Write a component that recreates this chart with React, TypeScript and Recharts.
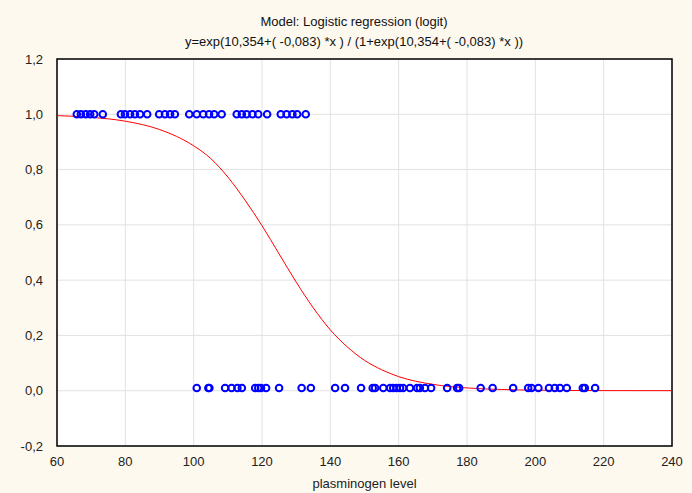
import React from 'react';
import {
  ComposedChart,
  Scatter,
  Line,
  XAxis,
  YAxis,
  CartesianGrid,
  ReferenceArea,
} from 'recharts';

// observed plasminogen levels, outcome = 1
const groupOne = [
  65.8, 67.0, 68.4, 69.7, 70.9, 73.4, 78.7, 79.9, 81.4, 82.8, 84.3, 86.4,
  89.9, 91.6, 93.1, 94.5, 98.7, 100.9, 102.8, 104.5, 106.0, 108.2, 112.6,
  114.1, 115.5, 117.2, 118.9, 121.5, 125.5, 127.2, 128.9, 130.3, 132.8,
];

// observed plasminogen levels, outcome = 0
const groupZero = [
  100.9, 104.3, 104.6, 109.2, 111.1, 112.8, 114.1, 118.0, 118.9, 119.7,
  121.2, 125.0, 131.6, 134.3, 141.4, 144.3, 149.0, 152.4, 153.1, 155.5,
  157.5, 158.4, 159.4, 160.4, 161.3, 163.3, 165.4, 166.2, 167.7, 169.5,
  174.2, 177.1, 177.7, 184.0, 187.5, 193.5, 197.9, 198.9, 200.9, 204.0,
  205.7, 207.2, 209.2, 213.9, 214.5, 217.5,
];

// plotted heights of the two rows of markers
const rowOneY = 1.0;
const rowZeroY = 0.01;

// fitted curve
const curveX = [60, 70, 80, 90, 95, 100, 105, 110, 115, 120, 125, 130, 135, 140, 145, 150, 155, 160, 170, 180, 190, 200, 220, 240];
const curveY = [0.995, 0.989, 0.975, 0.945, 0.92, 0.886, 0.84, 0.773, 0.69, 0.597, 0.495, 0.393, 0.3, 0.22, 0.158, 0.11, 0.076, 0.051, 0.023, 0.01, 0.0045, 0.002, 0.0004, 0.0001];

const xTicks = [60, 80, 100, 120, 140, 160, 180, 200, 220, 240];
const yTicks = [-0.2, 0, 0.2, 0.4, 0.6, 0.8, 1.0, 1.2];

const onesData = groupOne.map((x) => ({ x, y: rowOneY }));
const zerosData = groupZero.map((x) => ({ x, y: rowZeroY }));
const curveData = curveX.map((x, i) => ({ x, y: curveY[i] }));

const font = 'Arial, "Liberation Sans", sans-serif';

const Ring = (props: any) => (
  <circle cx={props.cx} cy={props.cy} r={3.3} fill="none" stroke="#0000ff" strokeWidth={2} />
);

export default function App() {
  return (
    <div style={{ position: 'absolute', left: 0, top: 0, width: 692, height: 493, background: '#fdf9ef', fontFamily: font }}>
      <div style={{ position: 'absolute', left: 0, width: 708, top: 12, textAlign: 'center', fontSize: 13, color: '#111', lineHeight: '20px' }}>
        <div>Model: Logistic regression (logit)</div>
        <div>y=exp(10,354+( -0,083) *x ) / (1+exp(10,354+( -0,083) *x ))</div>
      </div>
      <ComposedChart width={692} height={493} margin={{ top: 59, right: 20, bottom: 0, left: 0 }}>
        <CartesianGrid stroke="#e2e2e2" fill="#ffffff" />
        <XAxis
          type="number"
          dataKey="x"
          domain={[60, 240]}
          ticks={xTicks}
          height={47}
          tickLine={false}
          axisLine={false}
          tick={{ fill: '#222', fontSize: 13, fontFamily: font }}
          tickMargin={5}
          label={{ value: 'plasminogen level', position: 'insideBottom', offset: 5, fill: '#222', fontSize: 13, fontFamily: font }}
          allowDataOverflow
        />
        <YAxis
          type="number"
          dataKey="y"
          domain={[-0.2, 1.2]}
          ticks={yTicks}
          width={57}
          tickLine={false}
          axisLine={false}
          tick={{ fill: '#222', fontSize: 13, fontFamily: font }}
          tickFormatter={(v: number) => v.toFixed(1).replace('.', ',')}
          tickMargin={8}
          allowDataOverflow
        />
        <Line
          data={curveData}
          dataKey="y"
          type="monotone"
          stroke="#ff0000"
          strokeWidth={1}
          dot={false}
          isAnimationActive={false}
        />
        <Scatter data={onesData} shape={Ring} isAnimationActive={false} />
        <Scatter data={zerosData} shape={Ring} isAnimationActive={false} />
        <ReferenceArea x1={60} x2={240} y1={-0.2} y2={1.2} fill="none" stroke="#000" strokeWidth={1.5} fillOpacity={0} />
      </ComposedChart>
    </div>
  );
}
